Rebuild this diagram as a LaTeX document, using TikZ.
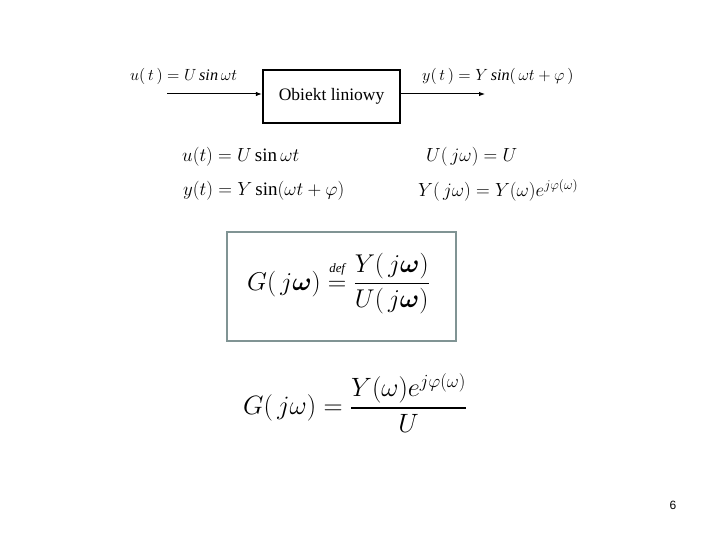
\RequirePackage{fix-cm}
\documentclass[tikz,border=0pt]{standalone}
\usepackage{amsmath,amssymb}
\usepackage{fontspec}
\setmainfont{Liberation Serif}
\setsansfont{Liberation Sans}
\usepackage{tikz}
\usetikzlibrary{arrows.meta, positioning}
\definecolor{ramka}{RGB}{128,148,148}

\begin{document}
\begin{tikzpicture}[x=1pt,y=-1pt,
    blok/.style={rectangle,draw,line width=2.2pt,minimum width=137pt,minimum height=53pt,font=\fontsize{17.5}{20}\selectfont},
    wzor/.style={inner sep=0pt,font=\fontsize{19}{23}\selectfont},
    sygnal/.style={inner sep=0pt,font=\fontsize{16.2}{19}\selectfont}]
    \useasboundingbox (0,0) rectangle (720,540);
    % schemat blokowy
    \node (obiekt) [blok] at (331.5,96.5) {Obiekt liniowy};
    \coordinate (wej) at (167,94);
    \coordinate (wyj) at (485,94);
    \draw[-{Latex[length=6pt]},line width=1pt] (wej) -- (wej -| obiekt.west);
    \draw[-{Latex[length=6pt]},line width=1pt] (obiekt.east |- wyj) -- (wyj);
    \node (uwe) [sygnal,anchor=west] at (130,76) {$u(\,t\,) = U\,\mathit{sin}\,\omega t$};
    \node (ywy) [sygnal,anchor=west] at (422,76) {$y(\,t\,) = Y\,\mathit{sin}(\,\omega t + \varphi\,)$};
    % sygnaly i transformaty
    \node (ut) [wzor,anchor=west] at (182,157) {$u(t) = U\sin\omega t$};
    \node (yt) [wzor,anchor=west] at (183,191) {$y(t) = Y\sin(\omega t + \varphi)$};
    \node (Uj) [wzor,anchor=west] at (426,157) {$U(\,j\omega) = U$};
    \node (Yj) [wzor,anchor=west] at (418,190) {$Y(\,j\omega) = Y(\omega)e^{j\varphi(\omega)}$};
    % definicja transmitancji
    \draw[ramka,line width=2.5pt] (227,232) rectangle (456,341);
    \node (Gdef) [inner sep=0pt,font=\fontsize{25.7}{30}\selectfont,anchor=west] at (247,284)
        {$G(\,j\boldsymbol{\omega}) \overset{\raisebox{4pt}{$\scriptscriptstyle\mathit{def}$}}{=} \dfrac{Y(\,j\boldsymbol{\omega})}{U(\,j\boldsymbol{\omega})}$};
    \node (Gwyn) [inner sep=0pt,font=\fontsize{26.5}{31}\selectfont,anchor=west] at (243,403)
        {$G(\,j\omega) = \dfrac{Y(\omega)e^{j\varphi(\omega)}}{U}$};
    % numer strony
    \node (nr) [font=\sffamily\fontsize{12}{14}\selectfont] at (673,505) {6};
\end{tikzpicture}
\end{document}
